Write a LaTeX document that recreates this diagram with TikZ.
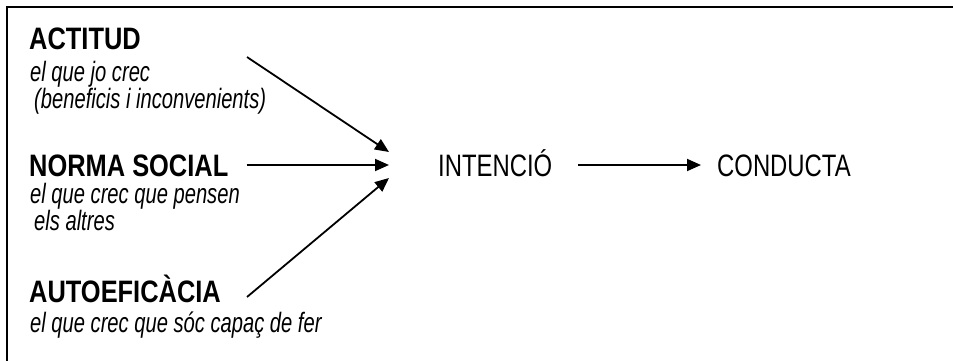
\documentclass[tikz,border=0pt]{standalone}
\usepackage{fontspec}
\setmainfont{Liberation Sans}
\newfontfamily\headfont[FakeStretch=0.82]{Liberation Sans}
\newfontfamily\stagefont[FakeStretch=0.77]{Liberation Sans}
\newfontfamily\notefont[FakeStretch=0.72]{Liberation Sans}
\usetikzlibrary{arrows.meta}

\begin{document}
\begin{tikzpicture}[x=1pt,y=-1pt,
	>={Triangle[length=14pt,width=12pt]},
	factor/.style={anchor=base west,inner sep=0pt,text height=22pt,text depth=0pt,font=\headfont\bfseries\fontsize{31}{31}\selectfont},
	stage/.style={anchor=base west,inner sep=0pt,text height=22pt,text depth=0pt,font=\stagefont\fontsize{31}{31}\selectfont},
	note/.style={anchor=base west,inner sep=0pt,align=left,font=\notefont\itshape\fontsize{28}{26.5}\selectfont},
	link/.style={line width=1.8pt,->}]
	\useasboundingbox (0,0) rectangle (953,361);
	\draw[line width=2pt] (953,7) -- (7,7) -- (7,361);

	\node[factor] (actitud) at (29,49) {ACTITUD};
	\node[note] (actitudnote) at (30,108) {el que jo crec\\\hspace*{4pt}(beneficis i inconvenients)};
	\node[factor] (norma) at (29,176) {NORMA SOCIAL};
	\node[note] (normanote) at (30,230) {el que crec que pensen\\\hspace*{4pt}els altres};
	\node[factor] (autoef) at (29,302) {AUTOEFICÀCIA};
	\node[note] (autoefnote) at (30,332) {el que crec que sóc capaç de fer};

	\node[stage] (intencio) at (438,176) {INTENCIÓ};
	\node[stage] (conducta) at (717,176) {CONDUCTA};

	\coordinate (hub) at (389,165);
	\coordinate (actitudtail) at (247,57);
	\coordinate (autoeftail) at (247,297);

	\draw[link] (actitudtail) -- ([yshift=13pt]hub);
	\draw[link, shorten <=18pt] (norma.east) -- (hub);
	\draw[link] (autoeftail) -- ([yshift=-13pt]hub);
	\draw[link, shorten <=26pt, shorten >=16pt] (intencio.east) -- (conducta.west);
\end{tikzpicture}
\end{document}
